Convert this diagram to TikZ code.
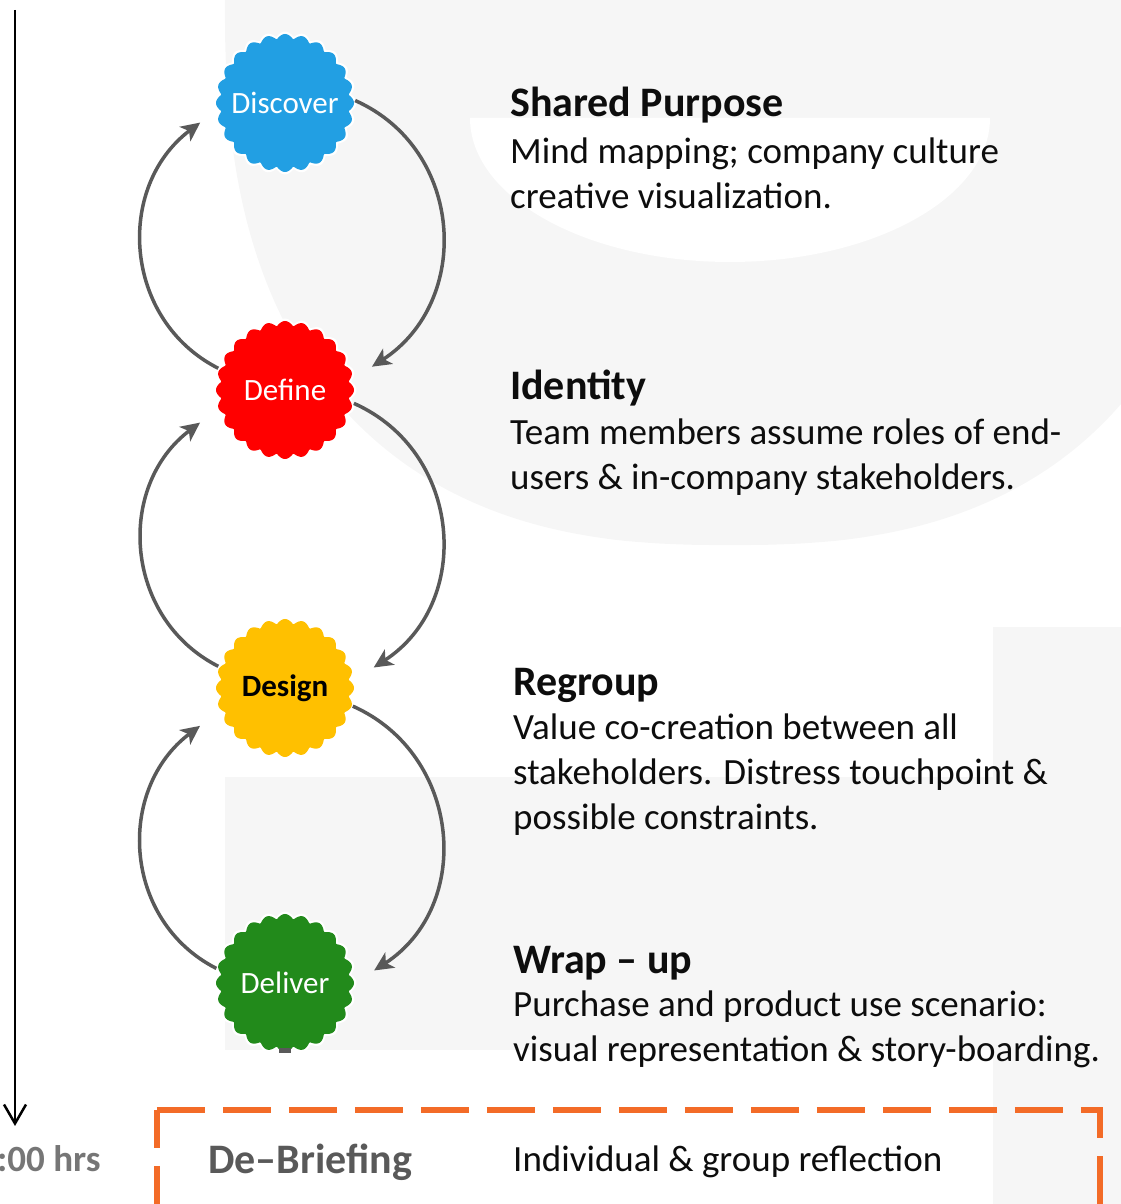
\documentclass[tikz,border=0pt]{standalone}
\usepackage{fontspec}
\setmainfont{Carlito}
\usetikzlibrary{arrows.meta,calc}

\definecolor{discblue}{HTML}{229FE3}
\definecolor{defred}{HTML}{FF0000}
\definecolor{desyellow}{HTML}{FFC000}
\definecolor{delgreen}{HTML}{228A1B}
\definecolor{flowgray}{HTML}{595959}
\definecolor{bggray}{HTML}{F6F6F6}
\definecolor{frameorange}{HTML}{F36B27}
\definecolor{textblack}{HTML}{0D0D0D}
\definecolor{hrsgray}{HTML}{767676}

\pgfdeclarelayer{back}
\pgfdeclarelayer{blob}
\pgfsetlayers{back,blob,main}

\begin{document}
\begin{tikzpicture}[x=1pt, y=1pt,
    burst/.style={circle, minimum size=140pt},
    tag/.style={font=\fontsize{31}{34}\selectfont, text=white},
    flow/.style={line width=3.5pt, draw=flowgray, -{Stealth[length=19pt, width=18pt, inset=5pt]}},
    rside/.style={out=-24, in=33, looseness=1.15},
    lside/.style={out=153, in=217, looseness=1.11},
    head/.style={anchor=base west, font=\fontsize{42}{46}\selectfont\bfseries, text=textblack},
    body/.style={anchor=base west, align=left, font=\fontsize{37}{45}\selectfont, text=textblack},
    fdash/.style={draw=frameorange, line width=5.5pt, dash pattern=on 48pt off 18pt}]

    \tikzstyle{every node}=[inner sep=0pt]

    \useasboundingbox (0,0) rectangle (1121,1204);
    \clip (0,0) rectangle (1121,1204);

    % background
    \begin{pgfonlayer}{back}
    \begin{scope}
    \clip (0,0) rectangle (1121,1204);
    \fill[bggray] plot[domain=180:360, samples=181]
        ({730+505*sign(cos(\x))*pow(abs(cos(\x))+0.0001,0.8)},
         {1204+545*sign(sin(\x))*pow(abs(sin(\x))+0.0001,0.8)}) -- cycle;
    \fill[white] (470,1086) arc[start angle=180, end angle=360, x radius=260, y radius=144] -- cycle;
    \fill[bggray] (993,0) rectangle (1121,577);
    \fill[bggray] (225,154) rectangle (993,427);
    \end{scope}
    \end{pgfonlayer}

    % time line
    \coordinate (tstart) at (15,1194);
    \coordinate (tend) at (15,78);
    \draw[line width=2.5pt, -{Straight Barb[length=19pt, width=22pt]}] (tstart) -- (tend);

    % phases
    \node[burst, tag] (disc) at (285,1101) {Discover};
    \node[burst, tag] (def) at (285,814) {Define};
    \node[burst, tag, text=black, font=\fontsize{31}{34}\selectfont\bfseries] (des) at (285,516) {Design};
    \node[burst, tag] (del) at (285,221) {Deliver};

    \begin{pgfonlayer}{blob}
    \foreach \n/\col in {disc/discblue, def/defred, des/desyellow, del/delgreen} {
        \fill[white, shift={(\n)}] plot[domain=0:360, samples=361] (\x:{66.5+5*abs(cos(12*\x))}) -- cycle;
        \fill[\col, shift={(\n)}] plot[domain=0:360, samples=361] (\x:{64+5*abs(cos(12*\x))}) -- cycle;
    }
    \end{pgfonlayer}
    \fill[flowgray] ([xshift=-6pt]del.south) rectangle ([xshift=6pt, yshift=5pt]del.south);

    \draw[flow] (disc.2) to[rside] ($(def)+(15:90)$);
    \draw[flow] (def.-11) to[rside] ($(des)+(13:91)$);
    \draw[flow] (des.-15) to[rside] ($(del)+(8:90)$);
    \draw[flow] (def.162) to[lside] ($(disc)+(193:87)$);
    \draw[flow] (des.162) to[lside] ($(def)+(201:91)$);
    \draw[flow] (del.168) to[lside] ($(des)+(204:93)$);

    % texts
    \node[head] (hpurpose) at (510,1087) {Shared Purpose};
    \node[body] (tpurpose) at (510,995) {Mind mapping; company culture\\creative visualization.};
    \node[head] (hidentity) at (510,804) {Identity};
    \node[body] (tidentity) at (510,714) {Team members assume roles of end-\\users \& in-company stakeholders.};
    \node[head] (hregroup) at (513,508) {Regroup};
    \node[body] (tregroup) at (513,374) {Value co-creation between all\\stakeholders. Distress touchpoint \&\\possible constraints.};
    \node[head] (hwrap) at (513,230) {Wrap – up};
    \node[body] (twrap) at (513,142) {Purchase and product use scenario:\\visual representation \& story-boarding.};

    % de-briefing
    \node[minimum width=943pt, minimum height=190pt] (frame) at (628.5,-1) {};
    \draw[fdash] (frame.north west) -- (frame.north east) -- (frame.south east);
    \draw[fdash, dash phase=10pt] (frame.north west) -- (frame.south west);
    \node[head, text=flowgray] (hdebrief) at (208,30) {De–Briefing};
    \node[body] (tdebrief) at (513,32) {Individual \& group reflection};
    \node[anchor=base west, font=\fontsize{37}{40}\selectfont\bfseries, text=hrsgray] (hrs) at (-3,32) {:00 hrs};
\end{tikzpicture}
\end{document}
